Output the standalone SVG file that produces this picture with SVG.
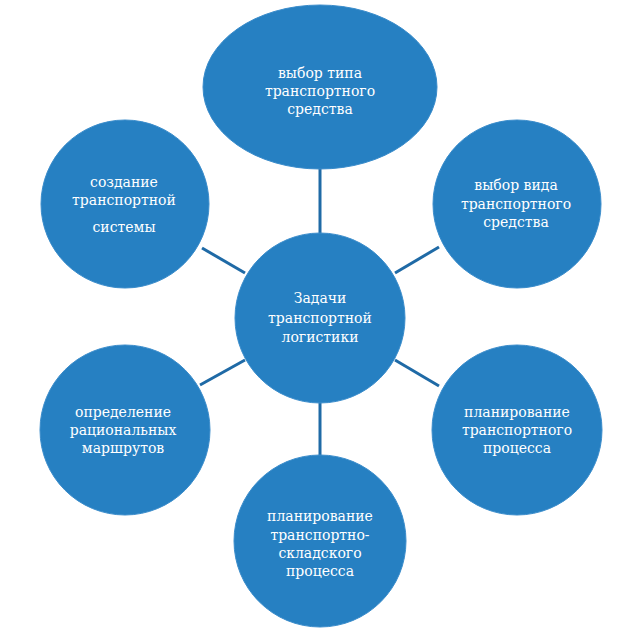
<svg xmlns="http://www.w3.org/2000/svg" width="640" height="631" viewBox="0 0 640 631">
<style>
.n{fill:#2680c2;stroke:#3a8ccb;stroke-width:1}
.c{stroke:#1f6aa6;stroke-width:3;fill:none}
text{font-family:"DejaVu Serif","Liberation Serif",serif;font-size:14px;fill:#ffffff;text-anchor:middle}
</style>
<rect width="640" height="631" fill="#ffffff"/>
<g id="connectors">
<line class="c" x1="320" y1="168" x2="320" y2="233"/>
<line class="c" x1="320" y1="403" x2="320" y2="456"/>
<line class="c" x1="202" y1="248" x2="245" y2="273"/>
<line class="c" x1="395" y1="273" x2="439" y2="247"/>
<line class="c" x1="245" y1="360" x2="200" y2="385"/>
<line class="c" x1="395" y1="360" x2="439" y2="386"/>
</g>
<g id="top">
<ellipse class="n" cx="320" cy="87" rx="117" ry="82"/>
<text x="320" y="78">выбор типа</text>
<text x="320" y="96">транспортного</text>
<text x="320" y="114">средства</text>
</g>
<g id="center">
<circle class="n" cx="320" cy="318" r="85"/>
<text x="320" y="303">Задачи</text>
<text x="320" y="323">транспортной</text>
<text x="320" y="342">логистики</text>
</g>
<g id="top-left">
<circle class="n" cx="125" cy="204" r="84"/>
<text x="124" y="187">создание</text>
<text x="124" y="205">транспортной</text>
<text x="124" y="232">системы</text>
</g>
<g id="top-right">
<circle class="n" cx="517" cy="204" r="84"/>
<text x="516" y="190">выбор вида</text>
<text x="516" y="209">транспортного</text>
<text x="516" y="227">средства</text>
</g>
<g id="bottom-left">
<circle class="n" cx="125" cy="430" r="85"/>
<text x="123" y="417">определение</text>
<text x="123" y="435">рациональных</text>
<text x="123" y="453">маршрутов</text>
</g>
<g id="bottom-right">
<circle class="n" cx="517" cy="430" r="85"/>
<text x="517" y="417">планирование</text>
<text x="517" y="435">транспортного</text>
<text x="517" y="453">процесса</text>
</g>
<g id="bottom">
<circle class="n" cx="320" cy="541" r="86"/>
<text x="320" y="521">планирование</text>
<text x="320" y="540">транспортно-</text>
<text x="320" y="558">складского</text>
<text x="320" y="576">процесса</text>
</g>
</svg>
